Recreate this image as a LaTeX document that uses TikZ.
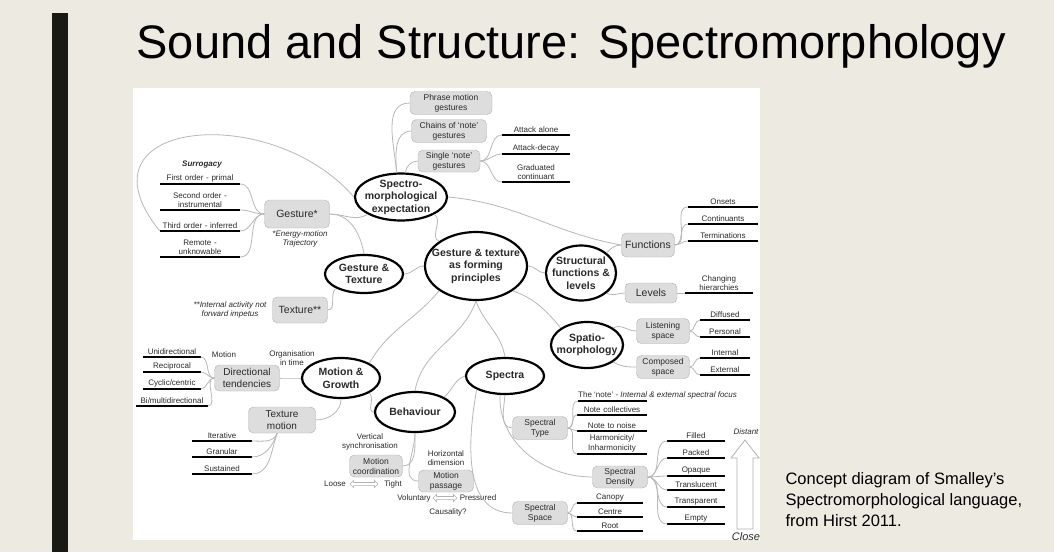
\documentclass[tikz,border=0pt]{standalone}
\usepackage{fontspec}
\setmainfont{Liberation Sans}
\usetikzlibrary{shapes.geometric,shapes.arrows}

\definecolor{slide}{HTML}{EDEAE2}
\definecolor{barblack}{HTML}{1A1A14}
\definecolor{boxfill}{HTML}{DDDDDD}
\definecolor{boxline}{HTML}{B0B0B0}
\definecolor{linkgray}{HTML}{B8B8B8}
\definecolor{ink}{HTML}{2A2A2A}

\newcommand{\leaffont}{\fontsize{8}{9.5}\selectfont}
\newcommand{\boxfont}{\fontsize{8.5}{10}\selectfont}
\newcommand{\midboxfont}{\fontsize{10}{11.5}\selectfont}
\newcommand{\bigboxfont}{\fontsize{10.5}{12}\selectfont}
\newcommand{\ovalfont}{\bfseries\fontsize{10.5}{12.5}\selectfont}

\begin{document}
\begin{tikzpicture}[x=1pt, y=-1pt, text=ink,
  main/.style = {draw=black, ellipse, line width=2.2pt, inner sep=0pt},
  ovaltext/.style = {align=center, font=\ovalfont, inner sep=0pt},
  gbox/.style = {draw=boxline, fill=boxfill, rounded corners=5pt, align=center, inner sep=1pt, font=\boxfont},
  leaf/.style = {text width=#1, inner xsep=0pt, inner ysep=2pt, align=center, anchor=south, font=\leaffont,
    append after command={(\tikzlastnode.south west) edge[draw=black, line width=2.6pt] (\tikzlastnode.south east)}},
  remark/.style = {align=center, font=\leaffont, inner sep=1pt},
  glink/.style = {draw=linkgray, line width=0.8pt},
  hollow/.style = {double arrow, draw=gray!60, fill=white, line width=0.6pt, inner sep=0pt, double arrow head extend=2pt}]

\fill[slide] (0,0) rectangle (1054,552);
\useasboundingbox (0,0) rectangle (1054,552);
\fill[barblack] (52,13) rectangle (68,552);
\fill[white] (133,88) rectangle (760,540);

\node[anchor=base west, font=\fontsize{47}{47}\selectfont, text=black] (title) at (133,58) {Sound and Structure: Spectromorphology};
\node[anchor=north west, align=left, font=\fontsize{16.5}{21}\selectfont, text=black] (caption) at (782,469) {Concept diagram of Smalley’s\\Spectromorphological language,\\from Hirst 2011.};

% expectation
\node[gbox, minimum width=82, minimum height=23] (phrase) at (451,103) {Phrase motion\\gestures};
\node[gbox, minimum width=75, minimum height=23] (chains) at (449,131) {Chains of ‘note’\\gestures};
\node[gbox, minimum width=62, minimum height=22] (single) at (449,161) {Single ‘note’\\gestures};
\node[leaf=68pt] (aal) at (536,135) {Attack alone};
\node[leaf=68pt] (adc) at (536,154) {Attack-decay};
\node[leaf=68pt] (grc) at (536,182) {Graduated\\continuant};
\node[main, minimum width=92, minimum height=47, label={[ovaltext]center:{Spectro-\\morphological\\expectation}}] (spec) at (401,197) {};

% surrogacy
\node[remark, font=\bfseries\itshape\leaffont] (surr) at (202,165) {Surrogacy};
\node[leaf=80pt] (fo1) at (200,184) {First order - primal};
\node[leaf=80pt] (so2) at (200,210) {Second order -\\instrumental};
\node[leaf=80pt] (to3) at (200,231) {Third order - inferred};
\node[leaf=80pt] (re4) at (200,257) {Remote -\\unknowable};
\node[gbox, font=\bigboxfont, minimum width=65, minimum height=28] (gest) at (297,214) {Gesture*};
\node[remark, font=\itshape\leaffont] (energy) at (300,239) {*Energy-motion\\Trajectory};
\node[gbox, font=\bigboxfont, minimum width=55, minimum height=26] (tex) at (300,310) {Texture**};
\node[remark, font=\itshape\leaffont] (intern) at (230,310) {**Internal activity not\\forward impetus};
\node[main, minimum width=78, minimum height=38, label={[ovaltext]center:{Gesture \&\\Texture}}] (gt) at (364,274) {};

% centre and structure
\node[main, minimum width=102, minimum height=68, label={[ovaltext]center:{Gesture \& texture\\as forming\\principles}}] (ctr) at (476,266) {};
\node[main, minimum width=70, minimum height=55, label={[ovaltext]center:{Structural\\functions \&\\levels}}] (st) at (581,273) {};
\node[gbox, font=\bigboxfont, minimum width=53, minimum height=24] (func) at (648,245) {Functions};
\node[leaf=70pt] (ons) at (723,207) {Onsets};
\node[leaf=70pt] (cnt) at (723,224) {Continuants};
\node[leaf=70pt] (trm) at (723,241) {Terminations};
\node[gbox, font=\bigboxfont, minimum width=52, minimum height=20] (lev) at (651,293) {Levels};
\node[leaf=68pt] (chh) at (719,293) {Changing\\hierarchies};

% space
\node[main, minimum width=72, minimum height=46, label={[ovaltext]center:{Spatio-\\morphology}}] (sp) at (587,345) {};
\node[gbox, minimum width=53, minimum height=25] (ls) at (663,331) {Listening\\space};
\node[gbox, minimum width=53, minimum height=23] (cs) at (663,367) {Composed\\space};
\node[leaf=50pt] (dif) at (725,320) {Diffused};
\node[leaf=50pt] (per) at (725,337) {Personal};
\node[leaf=50pt] (int) at (725,358) {Internal};
\node[leaf=50pt] (ext) at (725,375) {External};

% motion
\node[main, minimum width=78, minimum height=40, label={[ovaltext]center:{Motion \&\\Growth}}] (mg) at (341,378) {};
\node[remark] (org) at (292,358) {Organisation\\in time};
\node[gbox, font=\midboxfont, minimum width=65, minimum height=26] (dir) at (247,378) {Directional\\tendencies};
\node[remark] (motlbl) at (224,355) {Motion};
\node[leaf=57pt] (uni) at (172,357) {Unidirectional};
\node[leaf=57pt] (rec) at (172,372) {Reciprocal};
\node[leaf=57pt] (cyc) at (172,389) {Cyclic/centric};
\node[leaf=71pt] (bim) at (172,406) {Bi/multidirectional};
\node[gbox, font=\midboxfont, minimum width=67, minimum height=26] (tm) at (282,420) {Texture\\motion};
\node[leaf=59pt] (itr) at (222,441) {Iterative};
\node[leaf=59pt] (gra) at (222,457) {Granular};
\node[leaf=59pt] (sus) at (222,474) {Sustained};

% behaviour
\node[main, minimum width=80, minimum height=40, label={[ovaltext]center:{Behaviour}}] (beh) at (415,412) {};
\node[remark] (vs) at (370,442) {Vertical\\synchronisation};
\node[gbox, minimum width=53, minimum height=22] (mc) at (376,466) {Motion\\coordination};
\node[remark] (loose) at (335,484) {Loose};
\node[remark] (tight) at (393,484) {Tight};
\node[hollow, minimum height=28pt] (ltarrow) at (364,484) {\rule{0pt}{2.5pt}};
\node[remark] (hd) at (446,458) {Horizontal\\dimension};
\node[gbox, minimum width=55, minimum height=22] (mp) at (446,481) {Motion\\passage};
\node[remark] (vol) at (414,498) {Voluntary};
\node[remark] (pre) at (478,498) {Pressured};
\node[hollow, minimum height=24pt] (vparrow) at (445,498) {\rule{0pt}{2.5pt}};
\node[remark] (cau) at (448,512) {Causality?};

% spectra
\node[main, minimum width=78, minimum height=36, label={[ovaltext]center:{Spectra}}] (spc) at (505,376) {};
\node[gbox, minimum width=55, minimum height=23] (stype) at (540,428) {Spectral\\Type};
\node[anchor=south west, inner xsep=0pt, inner ysep=2pt, font=\leaffont] (tnote) at (578,401) {The ‘note’ - \textit{Internal \& external spectral focus}};
\node[leaf=69pt] (col) at (612,415) {Note collectives};
\node[leaf=69pt] (noi) at (612,431) {Note to noise};
\node[leaf=69pt] (har) at (612,454) {Harmonicity/\\Inharmonicity};
\node[gbox, minimum width=55, minimum height=22] (sd) at (620,477) {Spectral\\Density};
\node[leaf=57pt] (fil) at (696,441) {Filled};
\node[leaf=57pt] (pac) at (696,458) {Packed};
\node[leaf=57pt] (opa) at (696,476) {Opaque};
\node[leaf=57pt] (trl) at (696,490) {Translucent};
\node[leaf=57pt] (trp) at (696,507) {Transparent};
\node[leaf=57pt] (emp) at (696,524) {Empty};
\node[gbox, minimum width=55, minimum height=23] (ss) at (540,513) {Spectral\\Space};
\node[leaf=66pt] (can) at (610,503) {Canopy};
\node[leaf=66pt] (cen) at (610,517) {Centre};
\node[leaf=66pt] (roo) at (610,531) {Root};
\node[remark, font=\itshape\leaffont] (distant) at (746,432) {Distant};
\node[remark, font=\itshape\fontsize{11}{12}\selectfont] (close) at (746,537) {Close};

% links
\draw[glink] (spec.100) to[out=95,in=180] (phrase.west);
\draw[glink] (spec.100) to[out=95,in=180] (chains.west);
\draw[glink] (spec.80) to[out=80,in=180] (single.west);
\draw[glink] (single.east) to[out=0,in=180] (aal.south west);
\draw[glink] (single.east) to[out=0,in=180] (adc.south west);
\draw[glink] (single.east) to[out=0,in=180] (grc.south west);
\draw[glink] (spec.east) to[out=-5,in=170] (func.west);
\draw[glink] (spec.west) .. controls (270,100) and (70,120) .. (to3.south west);
\draw[glink] (gest.west) to[out=180,in=0] (fo1.south east);
\draw[glink] (gest.west) to[out=180,in=0] (so2.south east);
\draw[glink] (gest.west) to[out=180,in=0] (to3.south east);
\draw[glink] (gest.west) to[out=180,in=0] (re4.south east);
\draw[glink] (gest.east) to[out=0,in=210] (spec.south west);
\draw[glink] (gest.east) to[out=0,in=100] (gt.north);
\draw[glink] (tex.east) to[out=0,in=225] (gt.south west);
\draw[glink] (gt.east) to[out=0,in=180] (ctr.west);
\draw[glink] (spec.south east) to[out=-30,in=160] (ctr.north west);
\draw[glink] (ctr.east) to[out=0,in=180] (st.west);
\draw[glink] (st.north east) to[out=45,in=180] (func.west);
\draw[glink] (func.east) to[out=0,in=180] (ons.south west);
\draw[glink] (func.east) to[out=0,in=180] (cnt.south west);
\draw[glink] (func.east) to[out=0,in=180] (trm.south west);
\draw[glink] (st.south east) to[out=-30,in=180] (lev.west);
\draw[glink] (lev.east) to[out=0,in=180] (chh.south west);
\draw[glink] (ctr.south east) to[out=-20,in=130] (sp.north west);
\draw[glink] (sp.north east) to[out=30,in=180] (ls.west);
\draw[glink] (sp.south east) to[out=-30,in=180] (cs.west);
\draw[glink] (ls.east) to[out=0,in=180] (dif.south west);
\draw[glink] (ls.east) to[out=0,in=180] (per.south west);
\draw[glink] (cs.east) to[out=0,in=180] (int.south west);
\draw[glink] (cs.east) to[out=0,in=180] (ext.south west);
\draw[glink] (ctr.south west) to[out=230,in=60] (mg.north east);
\draw[glink] (ctr.south) to[out=-110,in=80] (beh.north);
\draw[glink] (ctr.south) to[out=-70,in=100] (spc.north);
\draw[glink] (spc.west) to[out=200,in=40] (beh.north east);
\draw[glink] (mg.west) to[out=180,in=0] (dir.east);
\draw[glink] (dir.west) to[out=180,in=0] (uni.south east);
\draw[glink] (dir.west) to[out=180,in=0] (rec.south east);
\draw[glink] (dir.west) to[out=180,in=0] (cyc.south east);
\draw[glink] (dir.west) to[out=180,in=0] (bim.south east);
\draw[glink] (mg.south) to[out=-90,in=0] (tm.east);
\draw[glink] (tm.250) to[out=250,in=0] (itr.south east);
\draw[glink] (tm.250) to[out=250,in=0] (gra.south east);
\draw[glink] (tm.250) to[out=250,in=0] (sus.south east);
\draw[glink] (mg.south east) to[out=-40,in=180] (beh.west);
\draw[glink] (beh.south) to[out=-90,in=0] (mc.east);
\draw[glink] (beh.south) to[out=-90,in=180] (mp.west);
\draw[glink] (spc.south) to[out=-95,in=180] (stype.west);
\draw[glink] (spc.255) to[out=-92,in=180] (sd.west);
\draw[glink] (spc.south west) to[out=-100,in=180] (ss.west);
\draw[glink] (stype.east) to[out=0,in=180] (tnote.south west);
\draw[glink] (stype.east) to[out=0,in=180] (col.south west);
\draw[glink] (stype.east) to[out=0,in=180] (noi.south west);
\draw[glink] (stype.east) to[out=0,in=180] (har.south west);
\draw[glink] (sd.east) to[out=0,in=180] (fil.south west);
\draw[glink] (sd.east) to[out=0,in=180] (pac.south west);
\draw[glink] (sd.east) to[out=0,in=180] (opa.south west);
\draw[glink] (sd.east) to[out=0,in=180] (trl.south west);
\draw[glink] (sd.east) to[out=0,in=180] (trp.south west);
\draw[glink] (sd.east) to[out=0,in=180] (emp.south west);
\draw[glink] (ss.east) to[out=0,in=180] (can.south west);
\draw[glink] (ss.east) to[out=0,in=180] (cen.south west);
\draw[glink] (ss.east) to[out=0,in=180] (roo.south west);

% underline of the note label, and the big hollow arrow
\draw[line width=2.6pt] (tnote.south west) -- ++(69,0);
\draw[draw=gray!60, fill=white, line width=0.8pt] (745,440) -- (759,458) -- (753,458) -- (753,529) -- (737,529) -- (737,458) -- (731,458) -- cycle;
\end{tikzpicture}
\end{document}
